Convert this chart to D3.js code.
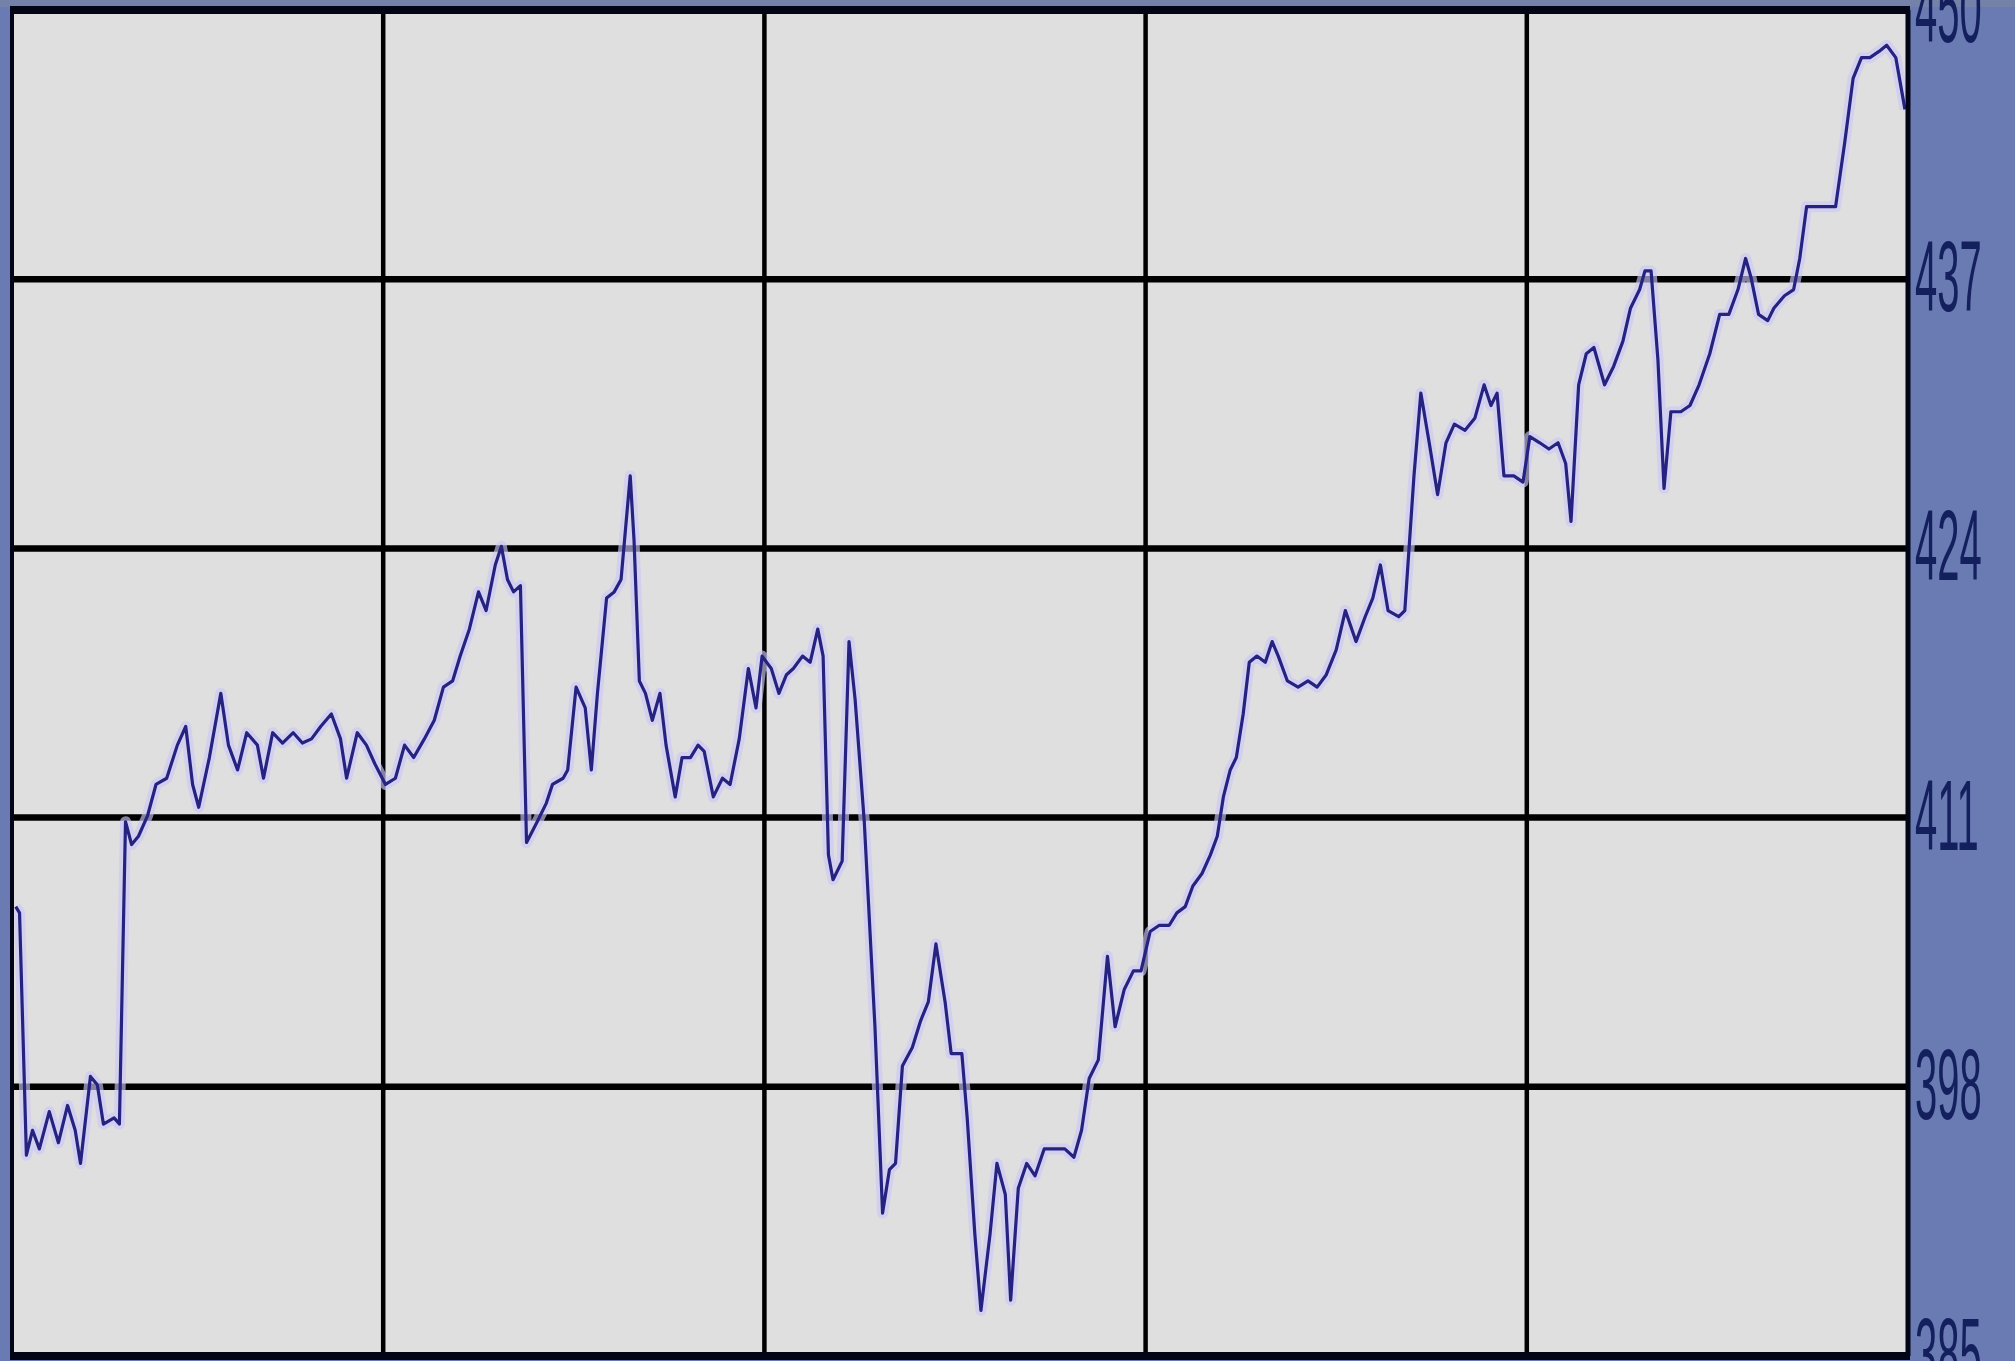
<!DOCTYPE html>
<html>
<head>
<meta charset="utf-8">
<script src="https://cdn.jsdelivr.net/npm/d3@7"></script>
<style>
    body { margin: 0; background: #6a7ab2; }
</style>
</head>
<body>
<div id="chart"></div>
<script>
// trading day index along the x axis
const days = [1.8, 2.3, 3.2, 4.0, 4.9, 6.2, 7.4, 8.6, 9.6, 10.3, 11.6, 12.5, 13.3, 14.7, 15.4, 16.2, 17.0, 17.9, 19.1, 20.2,
    21.6, 23.0, 24.1, 25.0, 25.8, 27.2, 28.7, 29.7, 30.9, 32.1, 33.5, 34.3, 35.5, 36.8, 38.2, 39.4, 40.6, 41.8, 43.2, 44.4,
    45.2, 46.6, 47.8, 48.9, 50.3, 51.6, 52.8, 54.0, 55.4, 56.7, 57.9, 59.1, 60.1, 61.3, 62.5, 63.5, 64.7, 65.5, 66.3, 67.1,
    68.0, 68.8, 70.2, 71.4, 72.2, 73.6, 74.2, 75.3, 76.5, 77.3, 78.1, 79.3, 80.3, 81.2, 82.4, 82.9, 83.6, 84.4, 85.3, 86.3,
    87.1, 88.3, 89.2, 90.3, 91.3, 92.1, 93.3, 94.5, 95.5, 96.7, 97.9, 98.9, 99.7, 100.9, 101.9, 102.9, 103.8, 105.0, 106.0, 107.0,
    107.7, 108.4, 109.0, 110.2, 111.1, 111.9, 113.1, 114.5, 115.5, 116.4, 117.2, 118.1, 119.4, 120.5, 121.5, 122.5, 123.7, 124.5, 125.9, 126.6,
    127.6, 128.4, 129.6, 130.5, 131.6, 132.3, 133.3, 134.4, 135.5, 136.7, 138.1, 139.4, 140.6, 141.6, 142.6, 143.8, 145.0, 146.0, 147.2, 148.4,
    149.4, 150.6, 151.8, 153.1, 154.1, 155.2, 156.2, 157.4, 158.5, 159.4, 160.2, 161.1, 161.9, 162.8, 163.6, 164.6, 165.7, 166.6, 167.4, 168.6,
    170.0, 171.3, 172.5, 173.7, 175.0, 176.2, 177.6, 178.8, 179.8, 180.8, 181.8, 183.2, 184.0, 185.2, 186.1, 187.2, 188.3, 189.4, 190.5, 191.9,
    193.2, 194.4, 195.3, 196.1, 197.0, 198.3, 199.5, 200.4, 201.7, 202.9, 204.1, 205.1, 205.8, 206.8, 207.8, 208.8, 210.2, 211.4, 212.6, 213.6,
    214.8, 215.5, 216.3, 217.2, 218.0, 218.9, 220.2, 221.4, 222.6, 224.0, 225.3, 226.5, 227.7, 228.7, 229.4, 230.4, 231.6, 232.4, 233.8, 235.0,
    235.8, 236.7, 237.9, 239.2, 240.5, 241.7, 242.8, 243.9, 245.0, 246.2, 247.2, 248.4, 249.6];

// closing values
const prices = [406.7, 406.4, 394.7, 395.9, 395.0, 396.8, 395.3, 397.1, 395.9, 394.3, 398.5, 398.1, 396.2, 396.5, 396.2, 410.8, 409.7, 410.1, 411.1, 412.6,
    412.9, 414.5, 415.4, 412.6, 411.5, 413.9, 417.0, 414.5, 413.3, 415.1, 414.5, 412.9, 415.1, 414.6, 415.1, 414.6, 414.8, 415.4, 416.0, 414.8,
    412.9, 415.1, 414.5, 413.6, 412.6, 412.9, 414.5, 413.9, 414.8, 415.7, 417.3, 417.6, 418.8, 420.1, 421.9, 421.0, 423.2, 424.1, 422.5, 421.9,
    422.2, 409.8, 410.8, 411.7, 412.6, 412.9, 413.3, 417.3, 416.3, 413.3, 417.0, 421.6, 421.9, 422.5, 427.5, 424.4, 417.6, 417.0, 415.7, 417.0,
    414.5, 412.0, 413.9, 413.9, 414.5, 414.2, 412.0, 412.9, 412.6, 414.8, 418.2, 416.3, 418.8, 418.2, 417.0, 417.9, 418.2, 418.8, 418.5, 420.1,
    418.8, 409.2, 408.0, 408.9, 419.5, 416.7, 410.8, 400.9, 391.9, 394.0, 394.3, 399.0, 399.9, 401.2, 402.1, 404.9, 402.1, 399.6, 399.6, 396.5,
    390.9, 387.2, 390.9, 394.3, 392.8, 387.7, 393.1, 394.3, 393.7, 395.0, 395.0, 395.0, 394.6, 395.9, 398.4, 399.3, 404.3, 400.9, 402.7, 403.6,
    403.6, 405.5, 405.8, 405.8, 406.4, 406.7, 407.7, 408.3, 409.2, 410.1, 412.0, 413.3, 413.9, 416.0, 418.5, 418.8, 418.5, 419.5, 418.8, 417.6,
    417.3, 417.6, 417.3, 417.9, 419.1, 421.0, 419.5, 420.7, 421.6, 423.2, 421.0, 420.7, 421.0, 427.5, 431.5, 429.1, 426.6, 429.1, 430.0, 429.7,
    430.3, 431.9, 430.9, 431.5, 427.5, 427.5, 427.2, 429.4, 429.1, 428.8, 429.1, 428.1, 425.3, 431.9, 433.4, 433.7, 431.9, 432.8, 434.0, 435.6,
    436.5, 437.4, 437.4, 433.1, 426.9, 430.6, 430.6, 430.9, 431.9, 433.4, 435.3, 435.3, 436.5, 438.0, 437.1, 435.3, 435.0, 435.6, 436.2, 436.5,
    438.0, 440.5, 440.5, 440.5, 440.5, 443.6, 446.7, 447.7, 447.7, 448.0, 448.3, 447.7, 445.2];

// gridline positions and right-hand labels
const dayTicks = [50, 100, 150, 200];
const priceGrid = [398, 411, 424, 437];
const priceLabels = [385, 398, 411, 424, 437, 450];

const series = days.map((d, i) => ({ day: d, price: prices[i] }));

// create scale functions
const x = d3.scaleLinear([0, 250], [2, 1908]);
const y = d3.scaleLinear([385, 450], [1356, 10]);
const plotLeft = 12;

let svg = d3.select("#chart")
    .append("svg")
    .attr("width", 2015)
    .attr("height", 1361);

// blue frame round the plot
svg.append("rect")
    .attr("width", 2015)
    .attr("height", 1361)
    .style("fill", "#6a7ab2");
svg.append("rect")
    .attr("width", 2015)
    .attr("height", 7)
    .style("fill", "#7482aa");

// plot area
svg.append("rect")
    .attr("x", plotLeft)
    .attr("y", y(450))
    .attr("width", x(250) - plotLeft)
    .attr("height", y(385) - y(450))
    .style("fill", "#dfdfdf");

// vertical grid lines
svg.selectAll("line.vgrid")
    .data(dayTicks)
    .enter()
    .append("line")
    .attr("class", "vgrid")
    .attr("x1", d => x(d))
    .attr("x2", d => x(d))
    .attr("y1", y(450))
    .attr("y2", y(385))
    .style("stroke", "#000")
    .style("stroke-width", 4.5);

// horizontal grid lines
svg.selectAll("line.hgrid")
    .data(priceGrid)
    .enter()
    .append("line")
    .attr("class", "hgrid")
    .attr("x1", plotLeft)
    .attr("x2", x(250))
    .attr("y1", d => y(d))
    .attr("y2", d => y(d))
    .style("stroke", "#000")
    .style("stroke-width", 6.5);

// the price line, with a soft halo like the original
let line = d3.line()
    .x(d => x(d.day))
    .y(d => y(d.price));

svg.append("path")
    .datum(series)
    .attr("d", line)
    .style("fill", "none")
    .style("stroke", "#cbc8f6")
    .style("stroke-width", 11)
    .style("stroke-linejoin", "round")
    .style("opacity", 0.65);

svg.append("path")
    .datum(series)
    .attr("d", line)
    .style("fill", "none")
    .style("stroke", "#25237f")
    .style("stroke-width", 3.2)
    .style("stroke-linejoin", "round");

// plot border
svg.append("line")
    .attr("x1", plotLeft - 2).attr("x2", x(250) + 2)
    .attr("y1", y(450)).attr("y2", y(450))
    .style("stroke", "#020515").style("stroke-width", 8);
svg.append("line")
    .attr("x1", plotLeft - 2).attr("x2", x(250) + 2)
    .attr("y1", y(385)).attr("y2", y(385))
    .style("stroke", "#020515").style("stroke-width", 8);
svg.append("line")
    .attr("x1", plotLeft).attr("x2", plotLeft)
    .attr("y1", y(450)).attr("y2", y(385))
    .style("stroke", "#020515").style("stroke-width", 4);
svg.append("line")
    .attr("x1", x(250)).attr("x2", x(250))
    .attr("y1", y(450)).attr("y2", y(385))
    .style("stroke", "#020515").style("stroke-width", 5);

// tall narrow labels on the right
svg.selectAll("text.ylab")
    .data(priceLabels)
    .enter()
    .append("text")
    .attr("class", "ylab")
    .attr("transform", d => "translate(1915," + (y(d) + 32) + ") scale(0.4,1)")
    .style("font-family", "'Liberation Sans', Arial, sans-serif")
    .style("font-size", "100px")
    .style("fill", "#14205e")
    .text(d => d);
</script>
</body>
</html>
